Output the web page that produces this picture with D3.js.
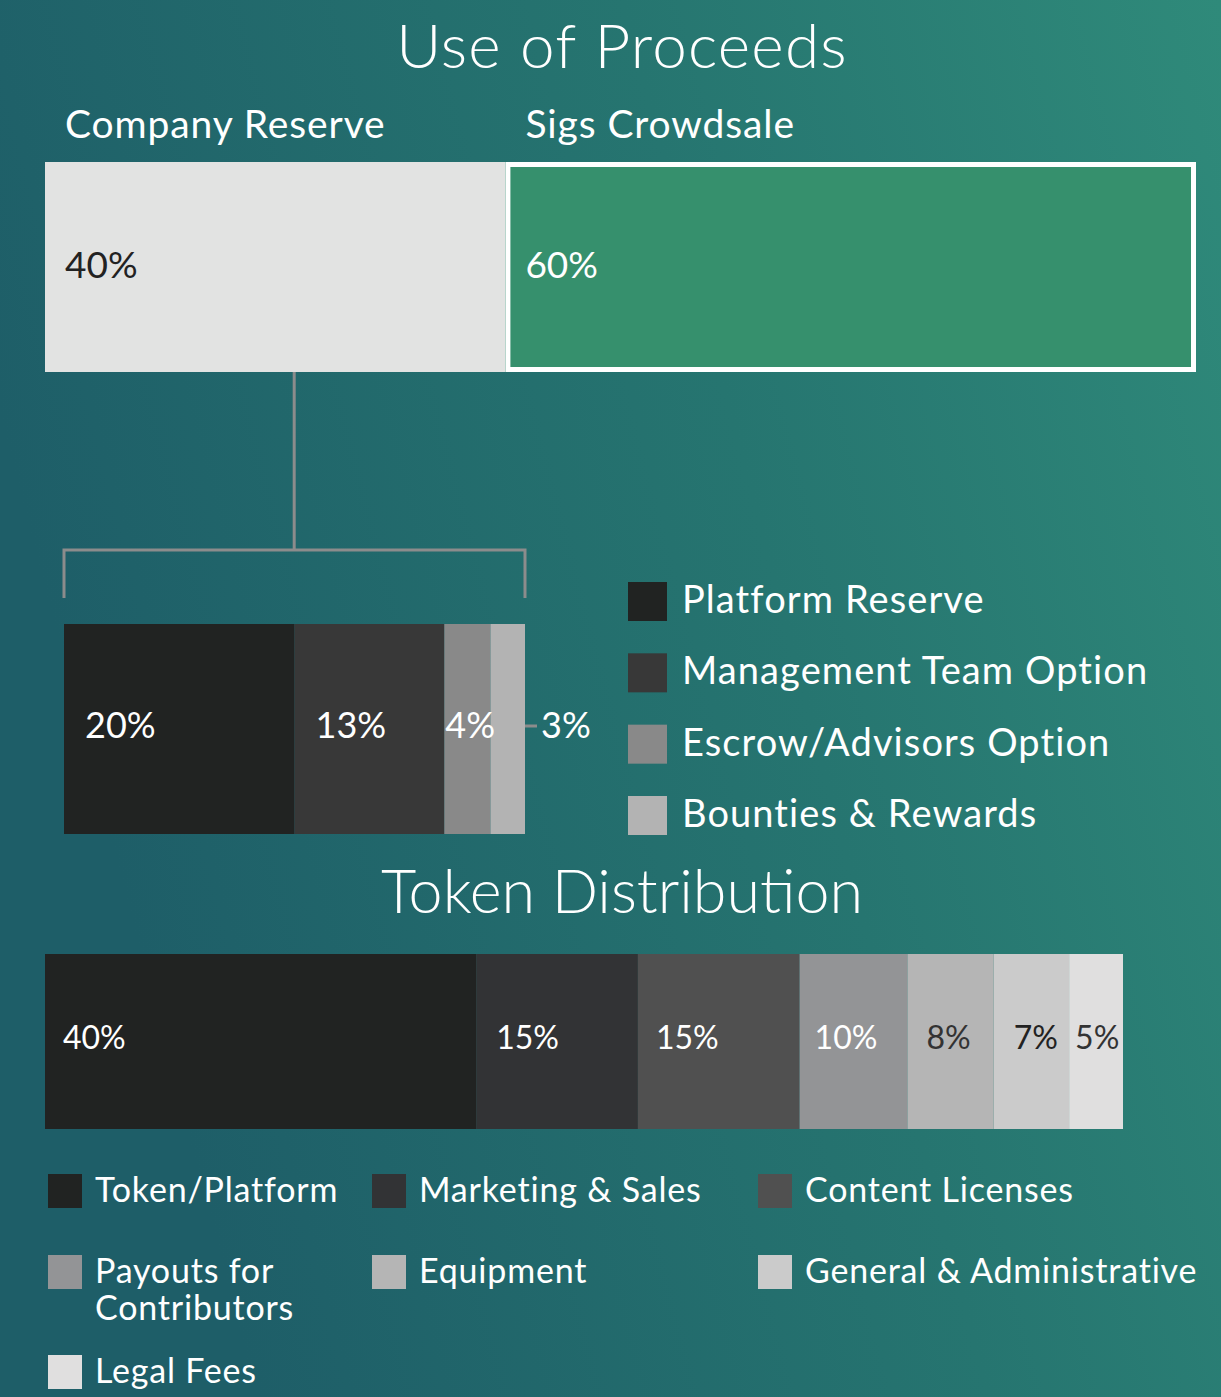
<!DOCTYPE html>
<html><head><meta charset="utf-8">
<script src="https://d3js.org/d3.v7.min.js"></script>
<style>
html,body{margin:0;padding:0;background:#22686c;}
svg{display:block;}
text{font-family:Lato,"Open Sans","Noto Sans",sans-serif;}
</style></head>
<body><svg id="c" width="1221" height="1397"></svg>
<script>
const proceedsCategories = ["Company Reserve", "Sigs Crowdsale"];
const proceedsValues = [40, 60];
const proceedsColors = ["#e2e3e2", "#36906d"];

const reserveCategories = ["Platform Reserve", "Management Team Option", "Escrow/Advisors Option", "Bounties & Rewards"];
const reserveValues = [20, 13, 4, 3];
const reserveColors = ["#212322", "#383838", "#898989", "#b3b3b3"];

const tokenCategories = ["Token/Platform", "Marketing & Sales", "Content Licenses", "Payouts for Contributors", "Equipment", "General & Administrative", "Legal Fees"];
const tokenValues = [40, 15, 15, 10, 8, 7, 5];
const tokenColors = ["#212322", "#323335", "#505050", "#939496", "#b5b5b5", "#cbcbcb", "#e0dfdf"];
const tokenLabelColors = ["#fff", "#fff", "#fff", "#fff", "#333", "#222", "#333"];

const svg = d3.select("#c");
const W = 1221, H = 1397;

// background gradient
const defs = svg.append("defs");
const g = defs.append("linearGradient").attr("id", "bg").attr("x1", "0").attr("y1", "0.3").attr("x2", "1").attr("y2", "0");
g.append("stop").attr("offset", "0").attr("stop-color", "#1e5e68");
g.append("stop").attr("offset", "0.55").attr("stop-color", "#267570");
g.append("stop").attr("offset", "1").attr("stop-color", "#2f8a7a");
svg.append("rect").attr("width", W).attr("height", H).attr("fill", "url(#bg)");

// titles
svg.append("text").attr("x", 622).attr("y", 68).attr("text-anchor", "middle")
  .attr("font-size", 62).attr("font-weight", 300).attr("letter-spacing", 1.2).attr("fill", "#fff").text("Use of Proceeds");
svg.append("text").attr("x", 622).attr("y", 913).attr("text-anchor", "middle")
  .attr("font-size", 61).attr("font-weight", 300).attr("fill", "#fff").text("Token Distribution");

// ---- top bar
function stack(vals) { let s = 0; return vals.map(v => { const r = [s, s + v]; s += v; return r; }); }
const xTop = d3.scaleLinear().domain([0, d3.sum(proceedsValues)]).range([45, 1196]);
const topStack = stack(proceedsValues);
const topY = 162, topH = 210;
svg.selectAll(".topbar").data(topStack).join("rect")
  .attr("x", d => xTop(d[0])).attr("y", topY)
  .attr("width", d => xTop(d[1]) - xTop(d[0])).attr("height", topH)
  .attr("fill", (d, i) => proceedsColors[i]);
// white border on crowdsale
svg.append("rect").attr("x", xTop(topStack[1][0]) + 2.5).attr("y", topY + 2.5)
  .attr("width", xTop(topStack[1][1]) - xTop(topStack[1][0]) - 5).attr("height", topH - 5)
  .attr("fill", "none").attr("stroke", "#fff").attr("stroke-width", 5);
proceedsCategories.forEach((c, i) => {
  const x0 = xTop(topStack[i][0]) + 20;
  svg.append("text").attr("x", x0).attr("y", 138).attr("font-size", 39).attr("letter-spacing", 0.9)
    .attr("fill", "#fff").text(c);
  svg.append("text").attr("x", x0).attr("y", 278).attr("font-size", 37)
    .attr("fill", i === 0 ? "#222" : "#fff").text(proceedsValues[i] + "%");
});

// ---- connector
const xRes = d3.scaleLinear().domain([0, d3.sum(reserveValues)]).range([64, 525]);
const connX = (xTop(topStack[0][0]) + xTop(topStack[0][1])) / 2 + 19;
const lineCol = "#8c8c8c";
svg.append("path").attr("fill", "none").attr("stroke", lineCol).attr("stroke-width", 3)
  .attr("d", `M${connX},372 V550 M${xRes.range()[0]},598 V550 H${xRes.range()[1]} V598`);

// ---- reserve bar
const resStack = stack(reserveValues);
const resY = 624, resH = 210;
svg.selectAll(".resbar").data(resStack).join("rect")
  .attr("x", d => xRes(d[0])).attr("y", resY)
  .attr("width", d => xRes(d[1]) - xRes(d[0])).attr("height", resH)
  .attr("fill", (d, i) => reserveColors[i]);
const resLabelY = 738;
resStack.forEach((d, i) => {
  if (i < 3) {
    const off = i === 2 ? 1 : 21;
    svg.append("text").attr("x", xRes(d[0]) + off).attr("y", resLabelY).attr("font-size", 36)
      .attr("fill", "#fff").text(reserveValues[i] + "%");
  } else {
    svg.append("line").attr("x1", xRes(d[1])).attr("x2", xRes(d[1]) + 12)
      .attr("y1", 726).attr("y2", 726).attr("stroke", lineCol).attr("stroke-width", 3);
    svg.append("text").attr("x", xRes(d[1]) + 16).attr("y", resLabelY).attr("font-size", 36)
      .attr("fill", "#fff").text(reserveValues[i] + "%");
  }
});

// reserve legend
const resLegY = d3.scalePoint().domain(reserveCategories).range([582, 796]);
reserveCategories.forEach((c, i) => {
  svg.append("rect").attr("x", 628).attr("y", resLegY(c)).attr("width", 39).attr("height", 39)
    .attr("fill", reserveColors[i]);
  svg.append("text").attr("x", 682).attr("y", resLegY(c) + 31).attr("font-size", 38)
    .attr("fill", "#fff").attr("letter-spacing", 1.1).text(c);
});

// ---- token bar
const xTok = d3.scaleLinear().domain([0, d3.sum(tokenValues)]).range([45, 1123]);
const tokStack = stack(tokenValues);
const tokY = 954, tokH = 175;
svg.selectAll(".tokbar").data(tokStack).join("rect")
  .attr("x", d => xTok(d[0])).attr("y", tokY)
  .attr("width", d => xTok(d[1]) - xTok(d[0])).attr("height", tokH)
  .attr("fill", (d, i) => tokenColors[i]);
const tokOff = [18, 20, 18, 15, 19, 20, 6];
tokStack.forEach((d, i) => {
  svg.append("text").attr("x", xTok(d[0]) + tokOff[i]).attr("y", 1049).attr("font-size", 32)
    .attr("fill", tokenLabelColors[i]).text(tokenValues[i] + "%");
});

// token legend
const legCols = [48, 372, 758];
const legRows = [1174, 1255, 1355];
tokenCategories.forEach((c, i) => {
  const col = i % 3, row = Math.floor(i / 3);
  const x = legCols[col], y = legRows[row];
  svg.append("rect").attr("x", x).attr("y", y).attr("width", 34).attr("height", 34).attr("fill", tokenColors[i]);
  const t = svg.append("text").attr("x", x + 47).attr("y", y + 28).attr("font-size", 34)
    .attr("letter-spacing", 0.8).attr("fill", "#fff");
  if (c === "Payouts for Contributors") {
    t.append("tspan").attr("x", x + 47).text("Payouts for");
    t.append("tspan").attr("x", x + 47).attr("dy", 37).text("Contributors");
  } else {
    t.text(c);
  }
});
</script></body></html>
